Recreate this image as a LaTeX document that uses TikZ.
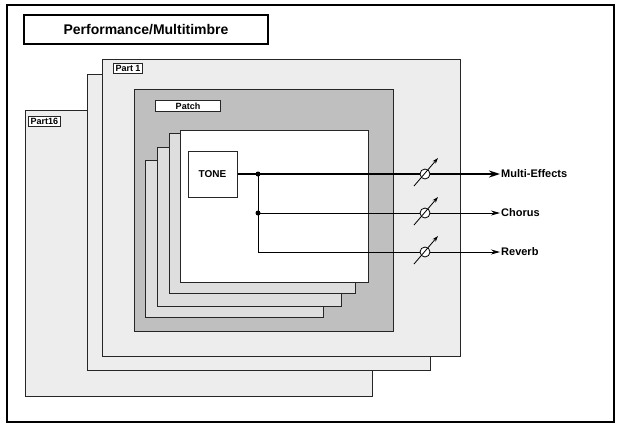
\documentclass[tikz,border=0pt]{standalone}
\usepackage{fontspec}
\setmainfont{Liberation Sans}
\usetikzlibrary{arrows.meta}
\begin{document}
\begin{tikzpicture}[x=1pt,y=-1pt,
  card/.style={draw=black!85,line width=1pt},
  lbl/.style={draw=black!85,fill=white,line width=1pt,font=\bfseries\fontsize{9}{10}\selectfont,inner sep=2pt,anchor=north west},
  sig/.style={line width=0.8pt,-{Stealth[length=9pt,width=5pt]}},
  outlbl/.style={font=\bfseries\fontsize{11}{12}\selectfont,anchor=west,inner sep=1pt},
  dot/.style={circle,fill=black,inner sep=0pt,minimum size=5pt}]
\useasboundingbox (0,0) rectangle (618,426);
\fill[white] (0,0) rectangle (618,426);
\draw[line width=1.2pt] (7,5) rectangle (614,422);
\node[draw,line width=2pt,font=\bfseries\fontsize{14}{16}\selectfont,minimum width=244pt,minimum height=29pt,anchor=north west,inner sep=0pt] (title) at (23,14) {Performance/Multitimbre};
\draw[card,fill=black!7] (25,110) rectangle (372,396);
\draw[card,fill=black!7] (87,74) rectangle (430,370);
\draw[card,fill=black!7] (102,59) rectangle (460,356);
\draw[card,fill=black!25] (134,89) rectangle (393,331);
\draw[card,fill=black!13] (145,160) rectangle (323,317);
\draw[card,fill=black!13] (157,147) rectangle (341,306);
\draw[card,fill=black!13] (169,133) rectangle (355,293);
\draw[card,fill=white] (180,130) rectangle (368,282);
\node[lbl] (p16) at (28,116) {Part16};
\node[lbl] (p1) at (113,63) {Part 1};
\node[lbl,minimum width=65pt] (patch) at (155,100) {Patch};
\node[draw=black!85,line width=1pt,fill=white,minimum width=49pt,minimum height=46pt,font=\bfseries\fontsize{10}{12}\selectfont,inner sep=0pt] (tone) at (212.5,174) {TONE};
\node[dot] (d1) at (258,174) {};
\node[dot] (d2) at (258,213) {};
\coordinate (c3) at (258,252);
\node[outlbl] (me) at (500,174) {Multi-Effects};
\node[outlbl] (ch) at (500,213) {Chorus};
\node[outlbl] (rv) at (500,252) {Reverb};
\draw[line width=2.5pt,-{Stealth[length=11pt,width=7pt]}] (tone.east) -- (me.west);
\draw[line width=0.8pt] (d1.center) -- (c3);
\draw[sig] (d2.center) -- (ch.west);
\draw[sig] (c3) -- (rv.west);
\foreach \y in {174,213,252}{
  \draw[line width=0.8pt,fill=white] (425,\y) circle (5pt);
  \draw[line width=0.8pt,-{Stealth[length=6pt,width=4pt]}] (414,\y+12) -- (438,\y-16);
}
\end{tikzpicture}
\end{document}
